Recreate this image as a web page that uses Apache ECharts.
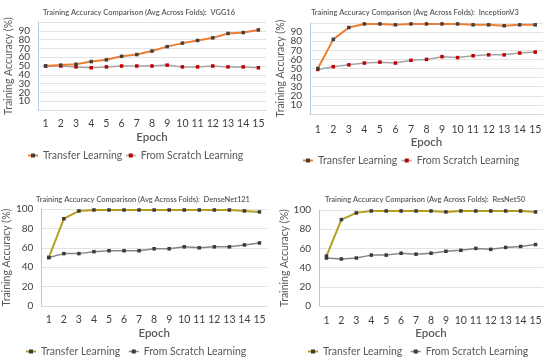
<!DOCTYPE html>
<html><head><meta charset="utf-8">
<script src="https://cdn.jsdelivr.net/npm/echarts@6/dist/echarts.min.js"></script>
<style>html,body{margin:0;padding:0;background:#fff}#c{width:550px;height:363px}</style>
</head><body><div id="c"></div>
<script>
const epochs = ['1','2','3','4','5','6','7','8','9','10','11','12','13','14','15'];
const panelNames = ['VGG16','InceptionV3','DenseNet121','ResNet50'];
const seriesNames = ['Transfer Learning','From Scratch Learning'];
const vggTransfer = [50,51,52,55,57,61,63,67,72,76,79,82,87,88,91];
const vggScratch = [50,50,49,48,49,50,50,50,51,49,49,50,49,49,48];
const incTransfer = [50,82,95,99,99,98,99,99,99,99,98,98,97,98,98];
const incScratch = [49,52,54,56,57,56,59,60,63,62,64,65,65,67,68];
const denTransfer = [50,90,98,99,99,99,99,99,99,99,99,99,99,98,97];
const denScratch = [50,54,54,56,57,57,57,59,59,61,60,61,61,63,65];
const resTransfer = [52,90,97,99,99,99,99,99,98,99,99,99,99,99,98];
const resScratch = [50,49,50,53,53,55,54,55,57,58,60,59,61,62,64];
const yTicksTop = [0,10,20,30,40,50,60,70,80,90,100];
const yTicksBottom = [0,20,40,60,80,100];

const F = 'Lato, "Open Sans", sans-serif';
const TX = '#595959';
const data = [[vggTransfer,vggScratch],[incTransfer,incScratch],[denTransfer,denScratch],[resTransfer,resScratch]];
const grids = [
  {left:38,right:284,top:22,bottom:253},
  {left:310,right:7,top:23,bottom:249},
  {left:36,right:283,top:209,bottom:57},
  {left:319,right:7,top:210,bottom:57}
];
const styles = [
  {tl:'#ED7D31',tm:'#404040',sl:'#A5A5A5',sm:'#C00000'},
  {tl:'#ED7D31',tm:'#404040',sl:'#A5A5A5',sm:'#C00000'},
  {tl:'#B59E1A',tm:'#3A3A3A',sl:'#8E8090',sm:'#3A3A3A'},
  {tl:'#B59E1A',tm:'#3A3A3A',sl:'#8E8090',sm:'#3A3A3A'}
];
const titlePos = [{x:134,y:8},{x:410,y:8},{x:138,y:195},{x:420,y:195}];
const legendLeft = [[27,125],[302,401],[25,128],[307,410]];
const legendY = [157,162,353,353];
const yNameGap = [22,22,20,22];
const xLabelMargin = [8,10,8,9];

const legends = [];
panelNames.forEach((n,i)=>{
  seriesNames.forEach((s,k)=>{
    legends.push({
      left:legendLeft[i][k], top:legendY[i]-7, padding:0,
      itemWidth:10,itemHeight:5,itemGap:5,selectedMode:false,
      textStyle:{fontFamily:F,fontSize:10.5,color:TX},
      data:[{name:s,
        itemStyle:{color:k==0?styles[i].tm:styles[i].sm},
        lineStyle:{color:k==0?styles[i].tl:styles[i].sl,width:k==0?2:1.5}}]
    });
  });
});

const option = {
  animation:false,
  title: panelNames.map((n,i)=>({
    text:'Training Accuracy Comparison (Avg Across Folds):  '+n,
    left:titlePos[i].x, top:titlePos[i].y, textAlign:'center', textVerticalAlign:'middle',
    textStyle:{fontFamily:F,fontSize:7.5,fontWeight:600,color:TX}
  })),
  legend: legends,
  grid: grids,
  xAxis: grids.map((g,i)=>({
    type:'category',gridIndex:i,data:epochs,boundaryGap:true,
    name:'Epoch',nameLocation:'middle',nameGap:i==1?22:21,
    nameTextStyle:{fontFamily:F,fontSize:11.5,fontWeight:600,color:TX},
    axisLine:{show:true,lineStyle:{color:'#D9D9D9'}},axisTick:{show:false},
    axisLabel:{fontFamily:F,fontSize:10.5,color:'#404040',margin:xLabelMargin[i],interval:0}
  })),
  yAxis: grids.map((g,i)=>({
    type:'value',gridIndex:i,min:0,max:100,interval:i<2?10:20,
    name:'Training Accuracy (%)',nameLocation:'middle',nameGap:yNameGap[i],
    nameTextStyle:{fontFamily:F,fontSize:10.5,color:TX},
    axisLine:{show:true,lineStyle:{color:'#B4C7E7'}},axisTick:{show:false},
    splitLine:{show:true,lineStyle:{color:'#E3E3E3'}},
    axisLabel:{fontFamily:F,fontSize:10,color:'#404040',margin:8,
      customValues:(i<2?yTicksTop:yTicksBottom)}
  })),
  series: []
};
data.forEach((d,i)=>{
  seriesNames.forEach((s,k)=>{
    option.series.push({
      name:s,type:'line',xAxisIndex:i,yAxisIndex:i,data:d[k],
      symbol:'rect',symbolSize:3.5,z:k==0?3:2,
      lineStyle:{color:k==0?styles[i].tl:styles[i].sl,width:k==0?2:1.5},
      itemStyle:{color:k==0?styles[i].tm:styles[i].sm}
    });
  });
});
echarts.init(document.getElementById('c')).setOption(option);
</script></body></html>
